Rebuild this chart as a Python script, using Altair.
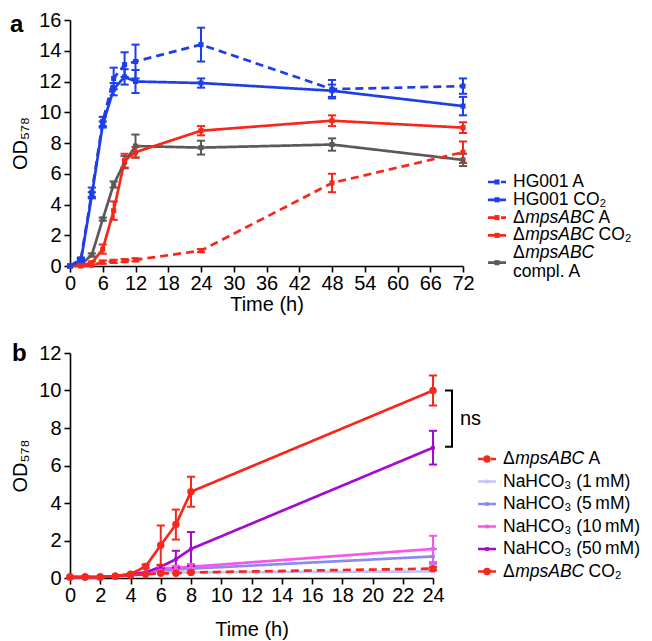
import altair as alt
import pandas as pd

FONT = "Liberation Sans"
BLUE = "#1e3fe8"
RED = "#f7281b"
GREY = "#5a5a5a"

# ---------------- panel a data ----------------
a_times = [0, 2, 4, 6, 8, 10, 12, 24, 48, 72]
a_names = ["HG001 A", "HG001 CO2", "mpsABC A", "mpsABC CO2", "mpsABC compl. A"]
a_values = [
    [0.0, 0.45, 4.8, 9.4, 12.2, 13.1, 13.3, 14.4, 11.5, 11.7],
    [0.0, 0.35, 4.6, 9.2, 11.5, 12.3, 12.0, 11.9, 11.4, 10.4],
    [0.0, 0.0, 0.05, 0.25, 0.3, 0.35, 0.4, 1.0, 5.4, 7.4],
    [0.0, 0.05, 0.2, 1.1, 3.6, 6.85, 7.4, 8.8, 9.45, 9.0],
    [0.0, 0.1, 0.72, 3.05, 5.3, 6.75, 7.8, 7.7, 7.9, 6.9],
]
a_errors = [
    [0, 0.1, 0.3, 0.3, 0.7, 0.8, 1.1, 1.1, 0.6, 0.5],
    [0, 0.1, 0.2, 0.2, 0.4, 0.5, 0.75, 0.3, 0.4, 0.6],
    [0, 0, 0, 0.1, 0.1, 0.1, 0.1, 0.1, 0.6, 0.7],
    [0, 0, 0.1, 0.3, 0.6, 0.45, 0.35, 0.3, 0.35, 0.35],
    [0, 0, 0.1, 0.1, 0.2, 0.4, 0.75, 0.45, 0.4, 0.4],
]
a_colors = [BLUE, BLUE, RED, RED, GREY]
a_dashes = [[8, 5], [1, 0], [8, 5], [1, 0], [1, 0]]
a_draw_order = [4, 3, 2, 1, 0]
a_leg_pre = ["HG001 A", "HG001 CO\u2082", "\u0394", "\u0394", "\u0394"]
a_leg_it = ["", "", "mpsABC", "mpsABC", "mpsABC"]
a_leg_suf = ["", "", "A", "CO\u2082", ""]
a_leg_line2 = ["", "", "", "", "compl. A"]
a_xticks = list(range(0, 73, 6))
a_yticks = list(range(0, 17, 2))

# ---------------- panel b data ----------------
b_times = [0, 1, 2, 3, 4, 5, 6, 7, 8, 24]
b_names = ["mpsABC A ", "NaHCO3 1", "NaHCO3 5", "NaHCO3 10", "NaHCO3 50", "mpsABC CO2 "]
b_values = [
    [0.05, 0.05, 0.05, 0.1, 0.15, 0.2, 0.25, 0.25, 0.3, 0.5],
    [0.05, 0.05, 0.05, 0.1, 0.15, 0.2, 0.3, 0.3, 0.3, 0.35],
    [0.05, 0.05, 0.05, 0.1, 0.15, 0.25, 0.4, 0.45, 0.5, 1.15],
    [0.05, 0.05, 0.05, 0.1, 0.2, 0.3, 0.5, 0.55, 0.6, 1.55],
    [0.05, 0.05, 0.05, 0.1, 0.2, 0.3, 0.6, 1.0, 1.55, 6.95],
    [0.05, 0.05, 0.05, 0.1, 0.2, 0.62, 1.75, 2.85, 4.6, 10.0],
]
b_errors = [
    [0, 0, 0, 0, 0, 0, 0, 0, 0, 0.1],
    [0, 0, 0, 0, 0, 0, 0, 0, 0, 0],
    [0, 0, 0, 0, 0, 0, 0, 0, 0.1, 0.4],
    [0, 0, 0, 0, 0, 0, 0.1, 0.1, 0.15, 0.7],
    [0, 0, 0, 0, 0, 0, 0.1, 0.45, 0.9, 0.9],
    [0, 0, 0, 0, 0, 0.1, 1.05, 0.8, 0.8, 0.8],
]
b_colors = [RED, "#c3c3fb", "#8a8af5", "#fb55e6", "#a30ccc", RED]
b_dashes = [[8, 5], [1, 0], [1, 0], [1, 0], [1, 0], [1, 0]]
b_shapes = ["circle", "square", "square", "square", "square", "circle"]
b_sizes = [55, 14, 14, 14, 14, 55]
b_draw_order = [1, 2, 3, 4, 0, 5]
b_leg_pre = ["\u0394", "NaHCO\u2083 (1\u2009mM)", "NaHCO\u2083 (5\u2009mM)",
             "NaHCO\u2083 (10\u2009mM)", "NaHCO\u2083 (50\u2009mM)", "\u0394"]
b_leg_it = ["mpsABC", "", "", "", "", "mpsABC"]
b_leg_suf = ["A", "", "", "", "", "CO\u2082"]
b_xticks = list(range(0, 25, 2))
b_yticks = list(range(0, 13, 2))
ns_top, ns_bottom = 10.0, 7.0

LEG_FS = 17.5


def long_df(times, names, values, errors, sizes, order):
    rows = []
    for k in order:
        for t, v, e in zip(times, values[k], errors[k]):
            rows.append(dict(series=names[k], t=t, od=v, err=e, msize=sizes[k]))
    return pd.DataFrame(rows)


def make_panel(times, names, values, errors, colors, dashes, shapes, sizes, draw_order,
               xdom, xticks, ydom, yticks, cap, xtitle_pad,
               leg_pre, leg_it, leg_suf, leg_line2, leg_x, leg_y0, leg_step,
               letter, letter_x, letter_y, letter_base):
    order = list(range(len(names)))
    df = long_df(times, names, values, errors, sizes, draw_order)

    def X(f):
        return alt.X(f, type="quantitative",
                     scale=alt.Scale(domain=xdom, nice=False, zero=False),
                     axis=alt.Axis(values=xticks, title="Time (h)", labelFlush=False,
                                   labelOverlap=False, titlePadding=xtitle_pad, labelPadding=1))

    def Y(f):
        return alt.Y(f, type="quantitative",
                     scale=alt.Scale(domain=ydom, nice=False),
                     axis=alt.Axis(values=yticks, title="OD\u2085\u2087\u2088",
                                   labelOverlap=False, titlePadding=8, labelPadding=3))

    col = alt.Color("series:N", scale=alt.Scale(domain=names, range=colors), legend=None)
    dash = alt.StrokeDash("series:N", scale=alt.Scale(domain=names, range=dashes), legend=None)
    shp = alt.Shape("series:N", scale=alt.Scale(domain=names, range=shapes), legend=None)
    siz = alt.Size("msize:Q", scale=None, legend=None)

    base = alt.Chart(df)
    errs = base.transform_filter("datum.err > 0").transform_calculate(
        lo="datum.od - datum.err", hi="datum.od + datum.err",
        t1=f"datum.t - {cap}", t2=f"datum.t + {cap}")
    bars = errs.mark_rule(strokeWidth=2).encode(x=X("t"), y=Y("lo"), y2="hi:Q", color=col)
    cap_hi = errs.mark_rule(strokeWidth=2).encode(x=X("t1"), x2="t2:Q", y=Y("hi"), color=col)
    cap_lo = errs.mark_rule(strokeWidth=2).encode(x=X("t1"), x2="t2:Q", y=Y("lo"), color=col)
    lines = base.mark_line(strokeWidth=2.7).encode(
        x=X("t"), y=Y("od"), color=col, strokeDash=dash, detail="series:N")
    pts = base.mark_point(filled=True, opacity=1).encode(
        x=X("t"), y=Y("od"), color=col, shape=shp, size=siz)

    # legend drawn beside the plot
    ldf = pd.DataFrame({"series": names, "pre": leg_pre, "it": leg_it,
                        "suf": leg_suf, "l2": leg_line2, "i": order, "msize": sizes})
    lb = alt.Chart(ldf).transform_calculate(
        py=f"{leg_y0} + {leg_step} * datum.i",
    ).transform_calculate(
        sy="datum.py + (datum.l2 ? 9.5 : 0)", py2="datum.py + 19")
    ly = lambda f: alt.Y(f, type="quantitative", scale=None, axis=None)
    l_rule = lb.mark_rule(strokeWidth=2.7).encode(
        x=alt.value(leg_x), x2=alt.value(leg_x + 18), y=ly("sy"), color=col, strokeDash=dash)
    l_pt = lb.mark_point(filled=True, opacity=1).encode(
        x=alt.value(leg_x + 9), y=ly("sy"), color=col, shape=shp, size=siz)
    tkw = dict(font=FONT, fontSize=LEG_FS, align="left", baseline="middle", color="black")
    tx = leg_x + 25
    d_w = 0.667 * LEG_FS
    it_w = 3.945 * LEG_FS
    sp_w = 0.278 * LEG_FS
    l_pre = lb.mark_text(**tkw).encode(x=alt.value(tx), y=ly("py"), text="pre:N")
    l_it = lb.transform_filter("datum.it != ''").mark_text(fontStyle="italic", **tkw).encode(
        x=alt.value(tx + d_w + 0.5), y=ly("py"), text="it:N")
    l_suf = lb.transform_filter("datum.suf != ''").mark_text(**tkw).encode(
        x=alt.value(tx + d_w + it_w + sp_w), y=ly("py"), text="suf:N")
    l_l2 = lb.transform_filter("datum.l2 != ''").mark_text(**tkw).encode(
        x=alt.value(tx), y=ly("py2"), text="l2:N")

    lab = alt.Chart(pd.DataFrame({"lbl": [letter]})).mark_text(
        font=FONT, fontSize=24, fontWeight="bold", align="left", baseline=letter_base,
        color="black").encode(x=alt.value(letter_x), y=alt.value(letter_y), text="lbl:N")

    layers = [lines, bars, cap_hi, cap_lo, pts, l_rule, l_pt, l_pre, l_it, l_suf, l_l2, lab]
    return layers, X, Y


layers_a, Xa, Ya = make_panel(
    a_times, a_names, a_values, a_errors, a_colors, a_dashes,
    ["square"] * 5, [26] * 5, a_draw_order, [0, 72], a_xticks, [0, 16], a_yticks, 0.75, 1,
    a_leg_pre, a_leg_it, a_leg_suf, a_leg_line2, 418, 162, 17.8,
    "a", -60, -7, "top")
panel_a = alt.layer(*layers_a).properties(width=393, height=246)

layers_b, Xb, Yb = make_panel(
    b_times, b_names, b_values, b_errors, b_colors, b_dashes, b_shapes, b_sizes, b_draw_order,
    [0, 24], b_xticks, [0, 12], b_yticks, 0.27, 14,
    b_leg_pre, b_leg_it, b_leg_suf, [""] * 6, 408, 106, 22.5,
    "b", -58, 1, "middle")

# "ns" bracket between the two top curves at 24 h
ns_df = pd.DataFrame({"top": [ns_top], "bottom": [ns_bottom], "txt": ["ns"]})
ns_base = alt.Chart(ns_df)
ns_v = ns_base.mark_rule(strokeWidth=2, color="black").encode(
    x=alt.value(382), y=Yb("top"), y2="bottom:Q")
ns_t = ns_base.mark_rule(strokeWidth=2, color="black").encode(
    x=alt.value(375), x2=alt.value(383), y=Yb("top"))
ns_b = ns_base.mark_rule(strokeWidth=2, color="black").encode(
    x=alt.value(375), x2=alt.value(383), y=Yb("bottom"))
ns_txt = ns_base.transform_calculate(mid="(datum.top + datum.bottom) / 2").mark_text(
    font=FONT, fontSize=20, align="left", baseline="middle", color="black").encode(
    x=alt.value(390), y=Yb("mid"), text="txt:N")

panel_b = alt.layer(*layers_b, ns_v, ns_t, ns_b, ns_txt).properties(width=363, height=225)

chart = alt.vconcat(panel_a, panel_b, spacing=28).resolve_scale(
    color="independent", strokeDash="independent", shape="independent"
).properties(
    padding={"left": 2, "top": 2, "right": 2, "bottom": 2}
).configure_view(stroke=None).configure_axis(
    labelFont=FONT, titleFont=FONT, labelFontSize=20, titleFontSize=20,
    titleFontWeight="normal", labelColor="black", titleColor="black",
    domainColor="black", tickColor="black", domainWidth=1.6, tickWidth=1.6,
    tickSize=6, grid=False)

chart.save("out.html", embed_options={"renderer": "svg", "actions": False})
